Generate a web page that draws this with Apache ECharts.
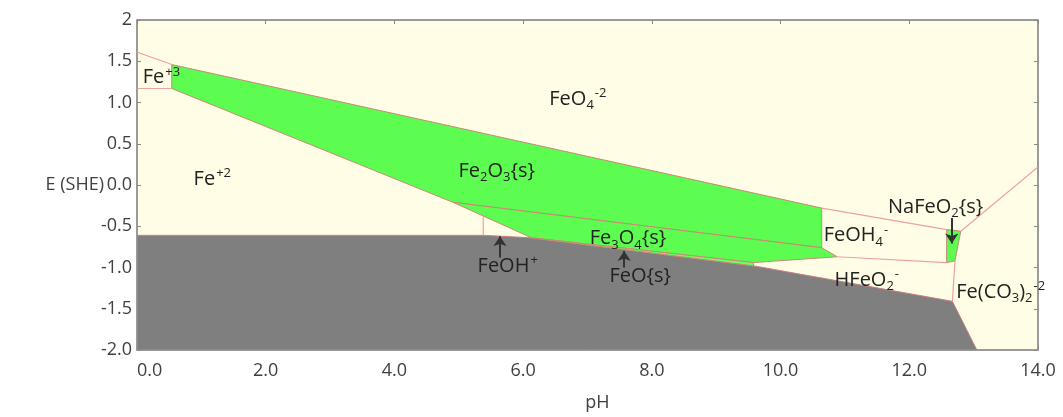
<!DOCTYPE html>
<html><head><meta charset="utf-8">
<script src="https://cdn.jsdelivr.net/npm/echarts@6/dist/echarts.min.js"></script>
<style>html,body{margin:0;padding:0;background:#fff}#c{width:1063px;height:417px}</style>
</head><body><div id="c"></div>
<script>
// ---- axis ticks ----
const xTickStep = 2;      // pH 0.0 ... 14.0
const yTickStep = 0.5;    // E -2.0 ... 2

// ---- stability regions (pH, E vs SHE) ----
const fe2o3Region = [[0.54,1.46],[10.64,-0.28],[10.64,-0.76],[4.91,-0.21],[0.54,1.17]];
const fe3o4Region = [[4.91,-0.21],[10.64,-0.76],[10.88,-0.87],[9.58,-0.94],[6.13,-0.64]];
const feoRegion   = [[6.13,-0.64],[9.58,-0.94],[9.58,-0.98]];
const nafeo2Region= [[12.58,-0.54],[12.80,-0.56],[12.71,-0.92],[12.58,-0.94]];
const feMetalRegion = [[0,-0.61],[5.38,-0.61],[6.13,-0.64],[9.58,-0.98],[12.67,-1.41],[13.05,-2.0],[0,-2.0]];

// ---- boundary lines between dissolved species ----
const fe3Fe4Line   = [[0,1.61],[0.54,1.46]];
const fe3Fe2Line   = [[0,1.17],[0.54,1.17]];
const fe2FeohLine  = [[5.38,-0.61],[5.38,-0.38]];
const feoh4Feo4Line= [[10.64,-0.28],[12.58,-0.54]];
const feoh4Hfeo2Line=[[10.88,-0.87],[12.58,-0.94]];
const feo4CarbLine = [[12.80,-0.56],[14,0.22]];
const hfeo2CarbLine= [[12.71,-0.92],[12.67,-1.41]];

// ---- annotations ----
const labelPH   = [0.38, 1.17, 6.85, 5.59, 7.63, 5.76, 7.82, 11.17, 11.34, 12.41, 13.42];
const labelE    = [1.30, 0.07, 1.04, 0.17, -0.65, -0.98, -1.11, -0.61, -1.15, -0.27, -1.30];
const labelText = [
  'Fe{sp|+3}', 'Fe{sp|+2}', 'FeO{sb|4}{sp|-2}', 'Fe{sb|2}O{sb|3}{s}', 'Fe{sb|3}O{sb|4}{s}',
  'FeOH{sp|+}', 'FeO{s}', 'FeOH{sb|4}{sp|-}', 'HFeO{sb|2}{sp|-}', 'NaFeO{sb|2}{s}', 'Fe(CO{sb|3}){sb|2}{sp|-2}'
];
const arrowFrom = [[5.64,-0.88],[7.57,-1.00],[12.66,-0.40]];
const arrowTo   = [[5.64,-0.62],[7.57,-0.80],[12.66,-0.71]];

const GREEN = '#5dfc50', GRAY = '#7f7f7f', BG = '#fffde6', PINK = '#eea2a0', EDGE = '#c98a76';
const FONT = 'Open Sans';

function polySeries(pts, fill, stroke, z) {
  return {
    type: 'custom', z: z || 2, silent: true, clip: true,
    data: pts,
    renderItem: function (params, api) {
      if (params.dataIndex !== 0) return;
      return {
        type: 'polygon',
        shape: { points: pts.map(p => api.coord(p)) },
        style: { fill: fill, stroke: stroke, lineWidth: 1 }
      };
    }
  };
}
function lineSeries(pts, color) {
  return {
    type: 'custom', z: 3, silent: true, clip: true,
    data: pts,
    renderItem: function (params, api) {
      if (params.dataIndex !== 0) return;
      return {
        type: 'polyline',
        shape: { points: pts.map(p => api.coord(p)) },
        style: { fill: null, stroke: color, lineWidth: 1.2 }
      };
    }
  };
}

const richStyles = {
  sp: { fontSize: 13, verticalAlign: 'top', lineHeight: 14, padding: [1, 0, 0, 1], fontFamily: FONT, color: '#222' },
  sb: { fontSize: 13, verticalAlign: 'bottom', lineHeight: 14, fontFamily: FONT, color: '#222' }
};

const labelSeries = {
  type: 'custom', z: 10, silent: true, clip: false,
  data: labelPH.map((x, i) => [x, labelE[i], i]),
  renderItem: function (params, api) {
    const i = params.dataIndex;
    const p = api.coord([labelPH[i], labelE[i]]);
    return {
      type: 'text', x: p[0], y: p[1],
      style: {
        text: labelText[i], fill: '#222', fontSize: 20, fontFamily: FONT,
        align: 'center', verticalAlign: 'middle', lineHeight: 26,
        rich: richStyles
      }
    };
  },
  markLine: {
    silent: true, symbol: ['none', 'arrow'], symbolSize: 10, animation: false,
    label: { show: false },
    lineStyle: { color: '#333', width: 2, type: 'solid' },
    data: arrowFrom.map((f, i) => [{ coord: f }, { coord: arrowTo[i] }])
  }
};

const axisLineStyle = { onZero: false, lineStyle: { color: '#8c8c8c', width: 1.5 } };
const tickStyle = { show: true, inside: true, length: 4, lineStyle: { color: '#888' } };

const option = {
  animation: false,
  backgroundColor: '#fff',
  grid: { left: 137, right: 25, top: 20, bottom: 64, show: true, backgroundColor: BG, borderColor: '#8c8c8c', borderWidth: 1 },
  xAxis: [{
    type: 'value', min: 0, max: 14, interval: xTickStep,
    name: 'pH', nameLocation: 'middle', nameGap: 44,
    nameTextStyle: { fontSize: 18, color: '#404040', fontFamily: FONT, padding: [0, 0, 0, 20] },
    axisLine: axisLineStyle, axisTick: tickStyle, splitLine: { show: false },
    axisLabel: { fontSize: 18, color: '#404040', fontFamily: FONT, margin: 12, alignMinLabel: 'left',
      formatter: v => v.toFixed(1) }
  }, {
    type: 'value', position: 'top', min: 0, max: 14, interval: xTickStep,
    axisLine: axisLineStyle, axisTick: tickStyle, axisLabel: { show: false }, splitLine: { show: false }
  }],
  yAxis: [{
    type: 'value', min: -2, max: 2, interval: yTickStep,
    name: 'E (SHE)', nameLocation: 'middle', nameRotate: 0, nameGap: 33, nameMoveOverlap: false,
    nameTextStyle: { fontSize: 18, color: '#404040', fontFamily: FONT, align: 'right' },
    axisLine: axisLineStyle, axisTick: tickStyle, splitLine: { show: false },
    axisLabel: { fontSize: 18, color: '#404040', fontFamily: FONT, margin: 5,
      formatter: v => (v === 2 ? '2' : v.toFixed(1)) }
  }, {
    type: 'value', position: 'right', min: -2, max: 2, interval: yTickStep,
    axisLine: axisLineStyle, axisTick: tickStyle, axisLabel: { show: false }, splitLine: { show: false }
  }],
  series: [
    polySeries(feMetalRegion, GRAY, '#c98080', 2),
    polySeries(fe2o3Region, GREEN, EDGE, 2),
    polySeries(fe3o4Region, GREEN, EDGE, 2),
    polySeries(feoRegion, '#6cff62', EDGE, 2),
    polySeries(nafeo2Region, GREEN, EDGE, 2),
    lineSeries(fe3Fe4Line, PINK),
    lineSeries(fe3Fe2Line, PINK),
    lineSeries(fe2FeohLine, PINK),
    lineSeries(feoh4Feo4Line, PINK),
    lineSeries(feoh4Hfeo2Line, PINK),
    lineSeries(feo4CarbLine, PINK),
    lineSeries(hfeo2CarbLine, PINK),
    labelSeries
  ]
};

const chart = echarts.init(document.getElementById('c'), null, { renderer: 'canvas' });
chart.setOption(option);
</script>
</body></html>
